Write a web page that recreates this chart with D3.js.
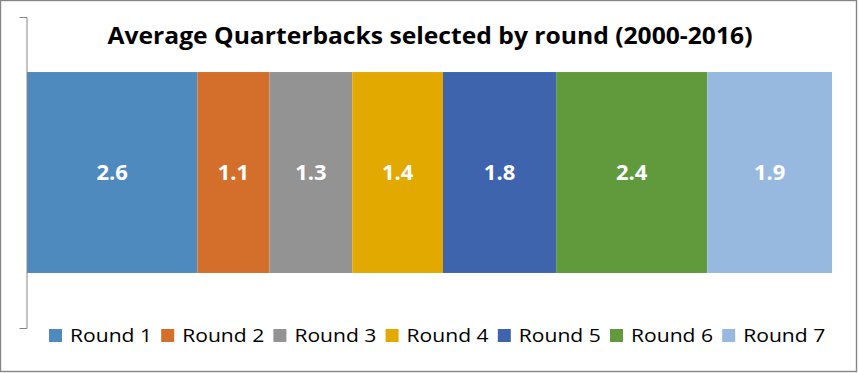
<!DOCTYPE html>
<html>
  <head>
    <meta charset="utf-8">
    <title>Average Quarterbacks selected by round</title>
    <script src="https://d3js.org/d3.v7.min.js"></script>
    <style>
      body { margin: 0; background: #fff; }
      text { font-family: "Open Sans", Lato, sans-serif; }
    </style>
  </head>
  <body>
    <svg id="canvas" width="859" height="373"></svg>

    <script>
      // data
      var rounds = ["Round 1", "Round 2", "Round 3", "Round 4", "Round 5", "Round 6", "Round 7"];
      var averages = [2.65, 1.12, 1.29, 1.41, 1.76, 2.35, 1.94];
      var colors = ["#4f8abe", "#d46e2b", "#939393", "#e2a900", "#3d64ad", "#619a3d", "#97b9e0"];
      var title = "Average Quarterbacks selected by round (2000-2016)";

      var svg = d3.select("#canvas");

      // chart border
      svg.append("rect")
        .attr("x", 0.5).attr("y", 0.5)
        .attr("width", 856).attr("height", 371)
        .attr("fill", "#fff")
        .attr("stroke", "#858585")
        .attr("stroke-width", 1.4);

      var total = d3.sum(averages);
      var x = d3.scaleLinear().domain([0, total]).range([27, 832]);
      var y = d3.scaleBand().domain(["QB"]).range([17, 328]).paddingInner(0.215).paddingOuter(0.215);

      // stack the segments one after another
      var starts = [];
      var acc = 0;
      averages.forEach(function(v){ starts.push(acc); acc += v; });

      var segs = rounds.map(function(r, i){
        return {name: r, value: averages[i], start: starts[i], color: colors[i]};
      });

      svg.selectAll("rect.seg")
        .data(segs)
        .enter()
        .append("rect")
        .attr("class", "seg")
        .attr("x", function(d){ return x(d.start); })
        .attr("y", y("QB"))
        .attr("width", function(d){ return x(d.start + d.value) - x(d.start); })
        .attr("height", y.bandwidth())
        .attr("fill", function(d){ return d.color; });

      svg.selectAll("text.lbl")
        .data(segs)
        .enter()
        .append("text")
        .attr("class", "lbl")
        .attr("x", function(d){ return (x(d.start) + x(d.start + d.value)) / 2; })
        .attr("y", y("QB") + y.bandwidth() / 2)
        .attr("dy", "0.36em")
        .attr("text-anchor", "middle")
        .attr("fill", "#fff")
        .style("font-size", "22px")
        .style("font-weight", "bold")
        .text(function(d){ return d3.format(".1f")(d.value); });

      // category axis on the left (only the line and end ticks)
      var yAxisScale = d3.scaleLinear().domain([0, 1]).range([328, 17]);
      var axis = svg.append("g")
        .attr("transform", "translate(26.5,0)")
        .call(d3.axisLeft(yAxisScale).ticks(0).tickSizeOuter(7));
      axis.select(".domain").attr("stroke", "#868686");

      // title
      svg.append("text")
        .attr("x", 430)
        .attr("y", 44)
        .attr("text-anchor", "middle")
        .attr("fill", "#000")
        .style("font-size", "24px")
        .style("font-weight", "bold")
        .attr("textLength", 645)
        .attr("lengthAdjust", "spacingAndGlyphs")
        .text(title);

      // legend
      var legend = svg.selectAll("g.leg")
        .data(segs)
        .enter()
        .append("g")
        .attr("class", "leg")
        .attr("transform", function(d, i){ return "translate(" + (49 + i * 112.2) + ",329)"; });

      legend.append("rect")
        .attr("width", 13).attr("height", 13)
        .attr("fill", function(d){ return d.color; });

      legend.append("text")
        .attr("x", 21)
        .attr("y", 6.5)
        .attr("dy", "0.36em")
        .attr("fill", "#000")
        .style("font-size", "19px")
        .attr("textLength", 82)
        .attr("lengthAdjust", "spacingAndGlyphs")
        .text(function(d){ return d.name; });
    </script>
  </body>
</html>
